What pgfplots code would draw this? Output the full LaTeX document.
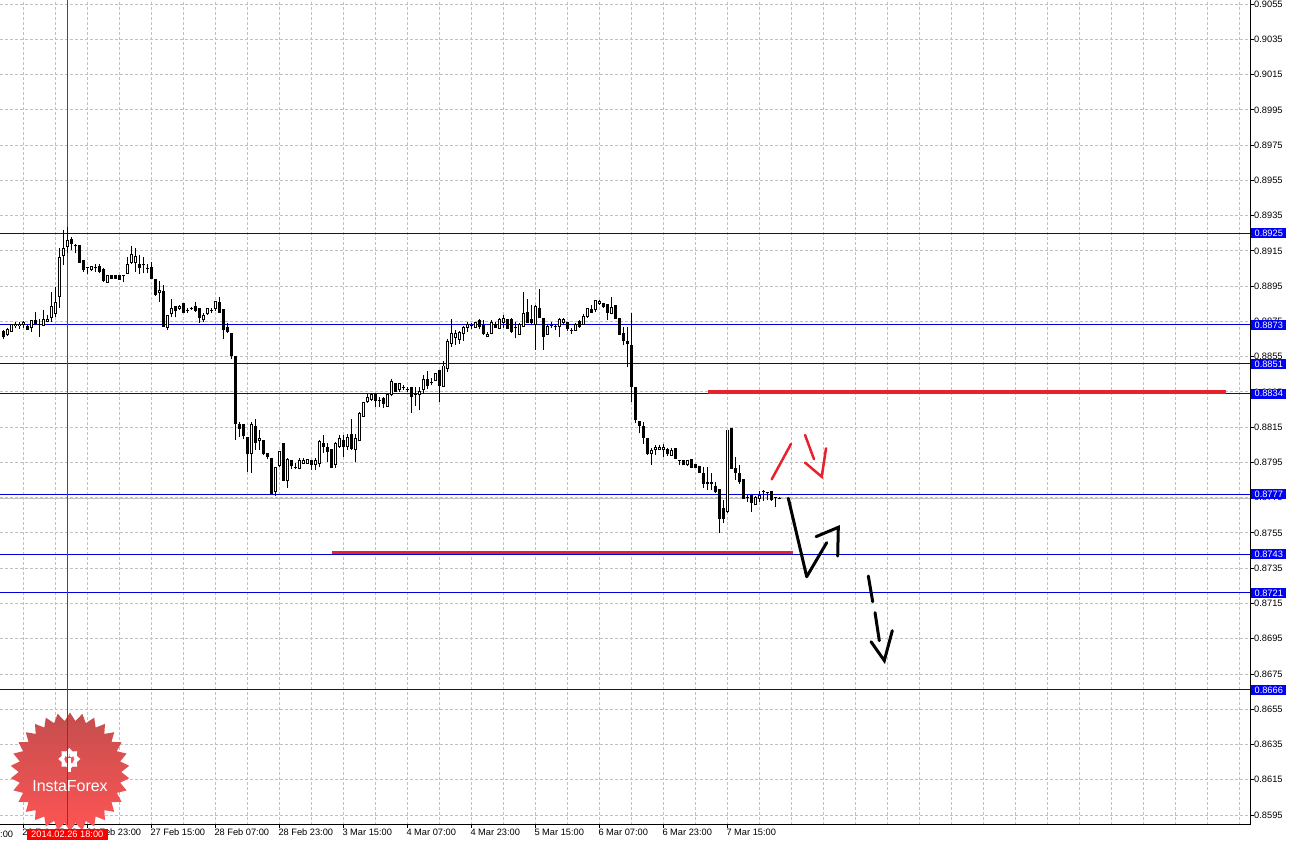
\documentclass[border=0pt]{standalone}
\usepackage{fontspec}
\setmainfont{Liberation Sans}
\usepackage{pgfplots}
\pgfplotsset{compat=1.18}
\usepackage{pgfplotstable}
\usetikzlibrary{shapes.geometric}
\definecolor{lvlblue}{RGB}{0,0,215}
\definecolor{boxblue}{RGB}{0,0,245}
\definecolor{gridgray}{RGB}{192,192,192}
\definecolor{drawred}{RGB}{232,34,44}
\definecolor{logotop}{RGB}{196,78,78}
\definecolor{logobot}{RGB}{255,84,84}

\pgfplotstableread{
k o h l c
0 0.88690 0.88701 0.88650 0.88667
1 0.88677 0.88714 0.88667 0.88705
2 0.88692 0.88737 0.88692 0.88734
3 0.88724 0.88745 0.88711 0.88735
4 0.88724 0.88748 0.88707 0.88735
5 0.88730 0.88752 0.88711 0.88741
6 0.88720 0.88730 0.88700 0.88705
7 0.88714 0.88758 0.88692 0.88754
8 0.88754 0.88802 0.88730 0.88737
9 0.88734 0.88764 0.88663 0.88734
10 0.88724 0.88815 0.88724 0.88762
11 0.88752 0.88786 0.88745 0.88762
12 0.88773 0.88915 0.88748 0.88837
13 0.88796 0.88947 0.88777 0.88858
14 0.88890 0.89165 0.88824 0.89115
15 0.89123 0.89269 0.89070 0.89165
16 0.89174 0.89286 0.89136 0.89208
17 0.89216 0.89231 0.89155 0.89193
18 0.89178 0.89187 0.89136 0.89178
19 0.89178 0.89178 0.89083 0.89083
20 0.89098 0.89098 0.89032 0.89042
21 0.89055 0.89060 0.89017 0.89055
22 0.89043 0.89066 0.89036 0.89059
23 0.89055 0.89074 0.89032 0.89055
24 0.89059 0.89074 0.89023 0.89032
25 0.89047 0.89051 0.88975 0.88983
26 0.88972 0.89013 0.88966 0.89009
27 0.89009 0.89013 0.88990 0.88994
28 0.89008 0.89008 0.88994 0.88994
29 0.89013 0.89013 0.88990 0.88990
30 0.89009 0.89013 0.88972 0.89009
31 0.89023 0.89114 0.89017 0.89074
32 0.89083 0.89178 0.89074 0.89127
33 0.89083 0.89168 0.89032 0.89117
34 0.89074 0.89127 0.89017 0.89055
35 0.89070 0.89117 0.89023 0.89070
36 0.89051 0.89074 0.89023 0.89051
37 0.89057 0.89089 0.88990 0.88994
38 0.88985 0.88985 0.88896 0.88904
39 0.88913 0.88979 0.88862 0.88928
40 0.88917 0.88956 0.88720 0.88720
41 0.88716 0.88786 0.88701 0.88786
42 0.88796 0.88875 0.88773 0.88824
43 0.88837 0.88837 0.88773 0.88811
44 0.88822 0.88843 0.88815 0.88833
45 0.88849 0.88849 0.88796 0.88800
46 0.88811 0.88824 0.88796 0.88811
47 0.88824 0.88833 0.88815 0.88824
48 0.88837 0.88862 0.88805 0.88811
49 0.88824 0.88824 0.88743 0.88773
50 0.88758 0.88796 0.88748 0.88786
51 0.88792 0.88824 0.88786 0.88824
52 0.88811 0.88824 0.88796 0.88811
53 0.88824 0.88867 0.88811 0.88862
54 0.88856 0.88887 0.88800 0.88800
55 0.88815 0.88815 0.88649 0.88705
56 0.88716 0.88743 0.88686 0.88692
57 0.88683 0.88683 0.88535 0.88559
58 0.88550 0.88550 0.88077 0.88172
59 0.88168 0.88181 0.88096 0.88144
60 0.88168 0.88168 0.88081 0.88100
61 0.88093 0.88093 0.87898 0.87998
62 0.87998 0.88181 0.87892 0.88168
63 0.88153 0.88195 0.88021 0.88062
64 0.88073 0.88134 0.88021 0.88087
65 0.88077 0.88077 0.87992 0.88002
66 0.87998 0.88002 0.87968 0.87983
67 0.87974 0.87974 0.87771 0.87771
68 0.87784 0.87922 0.87760 0.87922
69 0.87930 0.88013 0.87926 0.88013
70 0.88055 0.88055 0.87850 0.87850
71 0.87846 0.87974 0.87803 0.87964
72 0.87960 0.87964 0.87911 0.87930
73 0.87922 0.87945 0.87911 0.87922
74 0.87917 0.87974 0.87911 0.87960
75 0.87945 0.87974 0.87941 0.87960
76 0.87945 0.87970 0.87941 0.87964
77 0.87960 0.87964 0.87907 0.87936
78 0.87941 0.87974 0.87907 0.87960
79 0.87945 0.88077 0.87922 0.88068
80 0.88055 0.88106 0.88002 0.88039
81 0.88036 0.88059 0.87954 0.88011
82 0.88025 0.88025 0.87917 0.87922
83 0.87936 0.88068 0.87917 0.88055
84 0.88039 0.88106 0.88030 0.88087
85 0.88077 0.88106 0.87983 0.88039
86 0.88039 0.88111 0.88021 0.88093
87 0.88106 0.88195 0.88021 0.88030
88 0.88021 0.88111 0.87954 0.88087
89 0.88073 0.88238 0.88073 0.88229
90 0.88210 0.88295 0.88210 0.88289
91 0.88295 0.88338 0.88289 0.88320
92 0.88308 0.88346 0.88300 0.88338
93 0.88333 0.88342 0.88266 0.88300
94 0.88304 0.88320 0.88262 0.88304
95 0.88314 0.88320 0.88257 0.88286
96 0.88270 0.88338 0.88270 0.88333
97 0.88333 0.88422 0.88327 0.88408
98 0.88395 0.88395 0.88351 0.88351
99 0.88361 0.88402 0.88351 0.88395
100 0.88376 0.88389 0.88361 0.88376
101 0.88365 0.88376 0.88351 0.88365
102 0.88376 0.88376 0.88232 0.88323
103 0.88338 0.88376 0.88270 0.88338
104 0.88338 0.88380 0.88248 0.88351
105 0.88365 0.88446 0.88338 0.88418
106 0.88422 0.88470 0.88365 0.88389
107 0.88402 0.88427 0.88389 0.88402
108 0.88414 0.88459 0.88414 0.88456
109 0.88470 0.88470 0.88295 0.88389
110 0.88380 0.88527 0.88380 0.88497
111 0.88484 0.88649 0.88465 0.88635
112 0.88626 0.88762 0.88603 0.88679
113 0.88660 0.88701 0.88616 0.88683
114 0.88649 0.88696 0.88622 0.88686
115 0.88683 0.88724 0.88641 0.88716
116 0.88716 0.88748 0.88692 0.88735
117 0.88724 0.88743 0.88705 0.88724
118 0.88716 0.88748 0.88711 0.88743
119 0.88754 0.88762 0.88705 0.88720
120 0.88724 0.88758 0.88673 0.88679
121 0.88663 0.88692 0.88663 0.88677
122 0.88683 0.88758 0.88677 0.88745
123 0.88734 0.88745 0.88714 0.88714
124 0.88711 0.88768 0.88707 0.88758
125 0.88745 0.88786 0.88711 0.88764
126 0.88758 0.88758 0.88707 0.88711
127 0.88758 0.88768 0.88683 0.88692
128 0.88714 0.88748 0.88654 0.88714
129 0.88677 0.88739 0.88673 0.88734
130 0.88720 0.88919 0.88720 0.88796
131 0.88802 0.88877 0.88745 0.88745
132 0.88758 0.88843 0.88730 0.88745
133 0.88734 0.88843 0.88588 0.88833
134 0.88824 0.88934 0.88771 0.88771
135 0.88764 0.88764 0.88588 0.88663
136 0.88677 0.88734 0.88673 0.88720
137 0.88726 0.88745 0.88711 0.88726
138 0.88720 0.88734 0.88701 0.88720
139 0.88720 0.88768 0.88663 0.88758
140 0.88745 0.88768 0.88734 0.88758
141 0.88745 0.88745 0.88696 0.88707
142 0.88696 0.88711 0.88677 0.88696
143 0.88701 0.88739 0.88696 0.88730
144 0.88748 0.88758 0.88714 0.88720
145 0.88734 0.88790 0.88730 0.88777
146 0.88777 0.88828 0.88771 0.88824
147 0.88815 0.88843 0.88802 0.88802
148 0.88815 0.88871 0.88805 0.88866
149 0.88853 0.88871 0.88843 0.88862
150 0.88853 0.88853 0.88824 0.88833
151 0.88847 0.88847 0.88758 0.88802
152 0.88796 0.88890 0.88790 0.88828
153 0.88839 0.88839 0.88764 0.88764
154 0.88764 0.88764 0.88673 0.88677
155 0.88683 0.88720 0.88616 0.88639
156 0.88635 0.88720 0.88493 0.88626
157 0.88616 0.88796 0.88295 0.88380
158 0.88374 0.88380 0.88172 0.88191
159 0.88185 0.88185 0.88115 0.88162
160 0.88155 0.88179 0.88055 0.88091
161 0.88087 0.88087 0.87992 0.87998
162 0.88002 0.88030 0.87936 0.88017
163 0.88021 0.88049 0.87992 0.88036
164 0.88021 0.88049 0.88021 0.88036
165 0.88021 0.88055 0.87983 0.88036
166 0.88025 0.88030 0.87987 0.87998
167 0.87992 0.88030 0.87987 0.88017
168 0.88030 0.88030 0.87968 0.87974
169 0.87960 0.87964 0.87936 0.87960
170 0.87960 0.87964 0.87936 0.87936
171 0.87936 0.87964 0.87930 0.87960
172 0.87964 0.87964 0.87922 0.87922
173 0.87936 0.87936 0.87922 0.87922
174 0.87926 0.87926 0.87892 0.87892
175 0.87885 0.87926 0.87803 0.87828
176 0.87835 0.87922 0.87794 0.87828
177 0.87835 0.87889 0.87794 0.87828
178 0.87816 0.87841 0.87778 0.87784
179 0.87794 0.87794 0.87551 0.87633
180 0.87690 0.87737 0.87605 0.87633
181 0.87671 0.88134 0.87662 0.88134
182 0.88144 0.88144 0.87917 0.87917
183 0.87917 0.87983 0.87850 0.87892
184 0.87889 0.87936 0.87828 0.87841
185 0.87854 0.87854 0.87747 0.87747
186 0.87752 0.87765 0.87727 0.87752
187 0.87760 0.87760 0.87671 0.87722
188 0.87709 0.87760 0.87709 0.87752
189 0.87747 0.87790 0.87727 0.87765
190 0.87784 0.87794 0.87733 0.87784
191 0.87778 0.87784 0.87737 0.87778
192 0.87784 0.87784 0.87733 0.87737
193 0.87750 0.87752 0.87696 0.87750
194 0.87747 0.87752 0.87741 0.87747
}\candles

\begin{document}
\begin{tikzpicture}
\begin{axis}[
  name=a,
  scale only axis, width=1250bp, height=825bp,
  xmin=-0.825, xmax=311.675, ymin=0.858936, ymax=0.90573,
  axis x line*=bottom, axis y line*=right,
  axis line style={-, black, line width=1bp},
  x axis line style={-}, y axis line style={-},
  clip=false,
  tick align=outside, major tick length=3.5bp, minor tick length=0pt,
  tick style={black, line width=1bp},
  xtick={5,21,37,53,69,85,101,117,133,149,165,181},
  xticklabels={26 Feb 07:00,26 Feb 23:00,27 Feb 15:00,28 Feb 07:00,28 Feb 23:00,3 Mar 15:00,4 Mar 07:00,4 Mar 23:00,5 Mar 15:00,6 Mar 07:00,6 Mar 23:00,7 Mar 15:00},
  minor xtick={13,29,45,61,77,93,109,125,141,157,173,189,197,205,213,221,229,237,245,253,261,269,277,285,293,301,309},
  ytick={0.8595,0.8615,0.8635,0.8655,0.8675,0.8695,0.8715,0.8735,0.8755,0.8775,0.8795,0.8815,0.8835,0.8855,0.8875,0.8895,0.8915,0.8935,0.8955,0.8975,0.8995,0.9015,0.9035,0.9055},
  yticklabels={0.8595,0.8615,0.8635,0.8655,0.8675,0.8695,0.8715,0.8735,0.8755,0.8775,0.8795,0.8815,0.8835,0.8855,0.8875,0.8895,0.8915,0.8935,0.8955,0.8975,0.8995,0.9015,0.9035,0.9055},
  xmajorgrids, xminorgrids, ymajorgrids,
  major grid style={gridgray, dash pattern=on 3bp off 2bp, line width=1bp},
  minor grid style={gridgray, dash pattern=on 3bp off 2bp, line width=1bp},
  ticklabel style={font=\fontsize{9.3}{10}\selectfont},
  xticklabel style={anchor=north west, inner sep=0pt, xshift=-1bp},
  yticklabel style={anchor=west, inner sep=0pt, xshift=0.5bp},
]
% logo
\node[star, star points=30, star point ratio=1.16, minimum size=119bp, inner sep=0pt,
      top color=logotop, bottom color=logobot, draw=none] at (axis cs:16.675,0.86194) {};
\node[star, star points=8, star point ratio=1.35, minimum size=22bp, inner sep=0pt, fill=white] at (axis cs:16.5,0.86268) {};
\node[circle, minimum size=10bp, inner sep=0pt, fill=logobot] at (axis cs:16.5,0.86268) {};
\node[rectangle, minimum width=3.5bp, minimum height=14bp, inner sep=0pt, fill=white] at (axis cs:16.5,0.86232) {};
\node[circle, minimum size=4bp, inner sep=0pt, fill=white] at (axis cs:16.0,0.86290) {};
\node[circle, minimum size=4bp, inner sep=0pt, fill=white] at (axis cs:17.0,0.86290) {};
\node[text=white, font=\fontsize{16}{18}\selectfont, inner sep=0pt] at (axis cs:16.675,0.86112) {InstaForex};

% level lines
\addplot[gridgray, line width=1bp] coordinates {(-0.825,0.87747) (311.675,0.87747)};
\addplot[lvlblue, line width=1bp] coordinates {(-0.825,0.8925) (311.675,0.8925)};
\addplot[lvlblue, line width=1bp] coordinates {(-0.825,0.8873) (311.675,0.8873)};
\addplot[lvlblue, line width=1bp] coordinates {(-0.825,0.8851) (311.675,0.8851)};
\addplot[lvlblue, line width=1bp] coordinates {(-0.825,0.8834) (311.675,0.8834)};
\addplot[lvlblue, line width=1bp] coordinates {(-0.825,0.8777) (311.675,0.8777)};
\addplot[lvlblue, line width=1bp] coordinates {(-0.825,0.8743) (311.675,0.8743)};
\addplot[lvlblue, line width=1bp] coordinates {(-0.825,0.8721) (311.675,0.8721)};
\addplot[lvlblue, line width=1bp] coordinates {(-0.825,0.8666) (311.675,0.8666)};

% crosshair
\addplot[red, line width=1bp] coordinates {(16,0.858936) (16,0.90573)};

% candles: wicks
\addplot[draw=none, mark=none,
  error bars/.cd, y dir=plus, y explicit, error mark=none,
  error bar style={draw=black, line width=1bp, line cap=butt}]
  table[x=k, y=l, y error expr={\thisrow{h}-\thisrow{l}}] {\candles};
% bodies (outline / bear fill)
\addplot[draw=none, mark=none,
  error bars/.cd, y dir=plus, y explicit, error mark=none,
  error bar style={draw=black, line width=3bp, line cap=butt}]
  table[x=k, y expr={min(\thisrow{o},\thisrow{c})-0.0000284}, y error expr={abs(\thisrow{c}-\thisrow{o})+0.0000567}] {\candles};
% bull interior
\addplot[draw=none, mark=none,
  error bars/.cd, y dir=plus, y explicit, error mark=none,
  error bar style={draw=white, line width=1bp, line cap=butt}]
  table[x=k, y expr={\thisrow{o}+0.0000284}, y error expr={max(0,\thisrow{c}-\thisrow{o}-0.0000567)}] {\candles};

% red levels
\addplot[drawred, line width=3.5bp] coordinates {(176.25,0.8835) (305.7,0.8835)};
\addplot[drawred, line width=3.5bp] coordinates {(82.2,0.8744) (197.4,0.8744)};

% hand-drawn arrows
\addplot[black, line width=3bp, line cap=round, line join=round] coordinates {(196.25,0.87747) (200.85,0.87302) (205.85,0.87495)};
\addplot[black, line width=3bp, line cap=round, line join=miter] coordinates {(203.18,0.87529) (208.75,0.87582) (208.6,0.87419)};
\addplot[black, line width=3bp, line cap=round] coordinates {(216.25,0.87306) (217.35,0.87160)};
\addplot[black, line width=3bp, line cap=round] coordinates {(217.93,0.87098) (219.0,0.86939)};
\addplot[black, line width=3bp, line cap=round, line join=miter] coordinates {(216.93,0.86933) (220.25,0.86826) (222.25,0.86996)};
\addplot[drawred, line width=2.5bp, line cap=round] coordinates {(192.1,0.87854) (196.93,0.88055)};
\addplot[drawred, line width=2.5bp, line cap=round] coordinates {(200.43,0.88106) (202.68,0.87968)};
\addplot[drawred, line width=2.5bp, line cap=round, line join=miter] coordinates {(200.43,0.87949) (204.6,0.87869) (205.68,0.88030)};

% anchors for labels
\coordinate (L1) at (axis cs:311.675,0.8925);
\coordinate (L2) at (axis cs:311.675,0.8873);
\coordinate (L3) at (axis cs:311.675,0.8851);
\coordinate (L4) at (axis cs:311.675,0.8834);
\coordinate (L5) at (axis cs:311.675,0.8777);
\coordinate (L6) at (axis cs:311.675,0.8743);
\coordinate (L7) at (axis cs:311.675,0.8721);
\coordinate (L8) at (axis cs:311.675,0.8666);
\coordinate (D) at (axis cs:16,0.858936);
\coordinate (F) at (axis cs:-11,0.858936);
\end{axis}
\foreach \n/\t in {L1/0.8925,L2/0.8873,L3/0.8851,L4/0.8834,L5/0.8777,L6/0.8743,L7/0.8721,L8/0.8666}
  \node[fill=boxblue, text=white, anchor=west, inner xsep=3.4bp, inner ysep=1.8bp, text height=6.6bp, text depth=0pt, font=\fontsize{9.3}{10}\selectfont] at ([xshift=1bp]\n) {\t};
\node[anchor=north west, inner sep=0pt, font=\fontsize{9.3}{10}\selectfont] at ([xshift=-1bp,yshift=-6bp]F) {25 Feb 15:00};
\node[fill=red, text=white, anchor=north, inner xsep=4.2bp, inner ysep=2.2bp, text height=6.6bp, text depth=0pt, font=\fontsize{9.3}{10}\selectfont] at ([yshift=-3.5bp]D) {2014.02.26 18:00};
\pgfresetboundingbox
\path[use as bounding box] ([yshift=-19bp]a.south west) rectangle ([xshift=51bp]a.north east);
\end{tikzpicture}
\end{document}
